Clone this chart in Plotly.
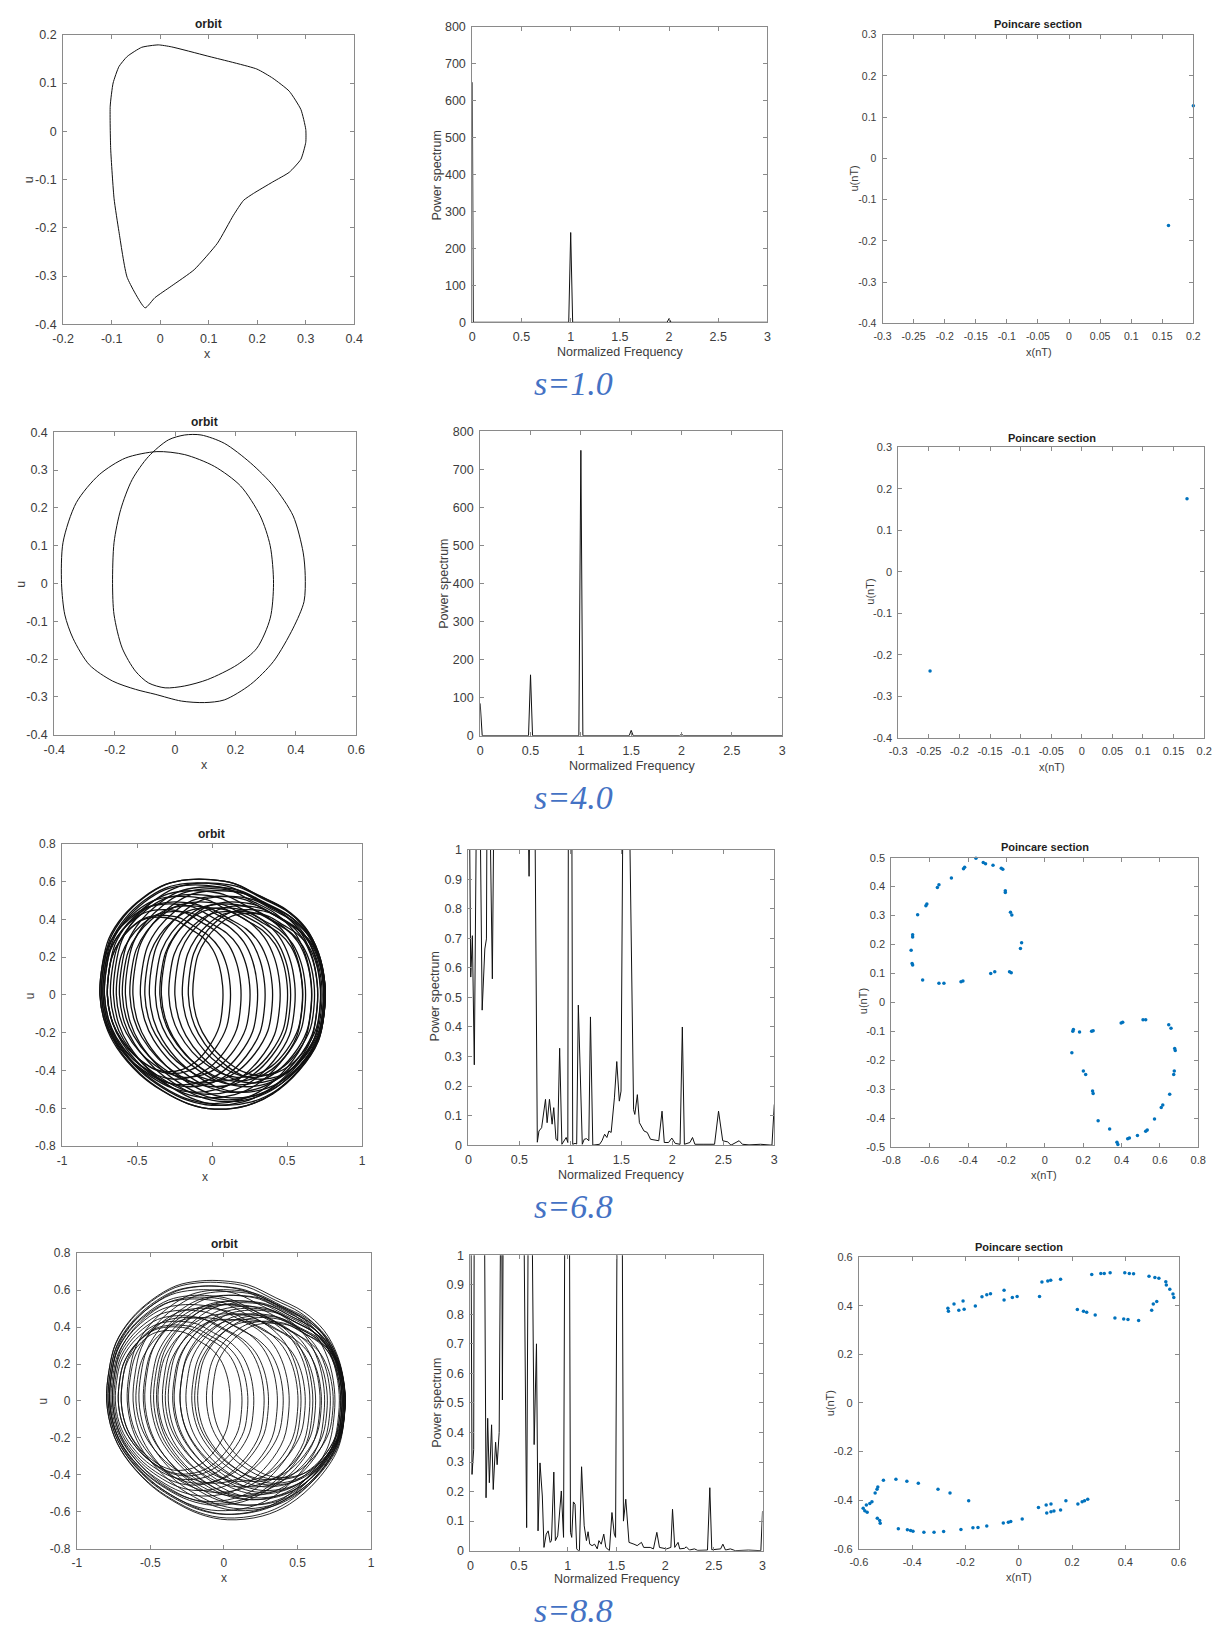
import plotly.graph_objects as go

W, H = 1223, 1634

# ---------------- data ----------------
# s = 1.0 orbit (x, u)
orb1_x = [-0.031, -0.068, -0.085, -0.095, -0.102, -0.103, -0.097, -0.085, -0.068, -0.038, -0.004, 0.023,
          0.097, 0.199, 0.232, 0.266, 0.290, 0.300, 0.300, 0.290, 0.266, 0.232, 0.192, 0.172, 0.151, 0.118,
          0.070, 0.023, -0.011, -0.031]
orb1_u = [-0.366, -0.303, -0.208, -0.140, -0.037, 0.052, 0.100, 0.134, 0.155, 0.174, 0.179, 0.175,
          0.156, 0.129, 0.110, 0.083, 0.045, 0.004, -0.023, -0.058, -0.085, -0.105, -0.129, -0.143, -0.174,
          -0.232, -0.287, -0.321, -0.345, -0.366]

# s = 4.0 orbit (period two)
orb2_x = [-0.060, -0.164, -0.251, -0.327, -0.371, -0.376, -0.365, -0.338, -0.284, -0.207, -0.131, -0.066,
          0.021, 0.097, 0.163, 0.250, 0.326, 0.391, 0.427, 0.431, 0.424, 0.391, 0.326, 0.250, 0.163, 0.086,
          0.032, -0.022, -0.088, -0.142, -0.180, -0.202, -0.207, -0.202, -0.175, -0.131, -0.088, -0.033,
          0.032, 0.108, 0.206, 0.271, 0.315, 0.326, 0.315, 0.282, 0.217, 0.130, 0.032, -0.060]
orb2_u = [0.349, 0.332, 0.288, 0.214, 0.109, 0.000, -0.083, -0.145, -0.215, -0.258, -0.280, -0.293,
          -0.311, -0.315, -0.308, -0.267, -0.206, -0.118, -0.048, 0.021, 0.083, 0.179, 0.258, 0.319, 0.371,
          0.393, 0.393, 0.380, 0.336, 0.275, 0.196, 0.109, 0.000, -0.083, -0.171, -0.232, -0.263, -0.276,
          -0.271, -0.254, -0.215, -0.171, -0.092, 0.000, 0.100, 0.179, 0.258, 0.310, 0.341, 0.349]

# traced outline of a single loop of the chaotic orbits (normalised)
loop_x = [-0.997, -0.977, -0.919, -0.789, -0.616, -0.415, -0.212, -0.011, 0.192, 0.424, 0.654, 0.828,
          0.943, 1.000, 1.000, 0.943, 0.771, 0.539, 0.309, 0.019, -0.212, -0.444, -0.645, -0.848, -0.948]
loop_y = [0.000, 0.257, 0.487, 0.687, 0.844, 0.959, 1.000, 1.000, 0.967, 0.859, 0.744, 0.587,
          0.372, 0.115, -0.115, -0.402, -0.659, -0.859, -0.959, -0.990, -0.944, -0.831, -0.687, -0.457, -0.257]

# s = 6.8 orbit loops: left edge, right edge, half height
orb3_left = [-0.75, -0.74, -0.73, -0.72, -0.70, -0.68, -0.75, -0.73, -0.70, -0.74, -0.66, -0.62, -0.58, -0.53,
             -0.48, -0.42, -0.38, -0.34, -0.29, -0.25, -0.20, -0.16, -0.13, -0.45, -0.60, -0.35, -0.55, -0.64,
             -0.70, -0.72]
orb3_right = [0.75, 0.74, 0.70, 0.66, 0.60, 0.55, 0.30, 0.19, 0.07, 0.45, 0.75, 0.74, 0.72, 0.75,
              0.70, 0.75, 0.66, 0.73, 0.60, 0.74, 0.68, 0.75, 0.72, 0.50, 0.40, 0.62, 0.52, 0.25,
              0.12, 0.35]
orb3_half = [0.61, 0.61, 0.59, 0.58, 0.55, 0.53, 0.48, 0.45, 0.41, 0.52, 0.59, 0.57, 0.56, 0.55,
             0.52, 0.52, 0.48, 0.49, 0.44, 0.47, 0.44, 0.45, 0.43, 0.46, 0.47, 0.46, 0.49, 0.44,
             0.42, 0.49]

# s = 8.8 orbit loops
orb4_left = [-0.80, -0.80, -0.79, -0.79, -0.78, -0.78, -0.77, -0.76, -0.75, -0.74, -0.72, -0.70, -0.66, -0.62,
             -0.58, -0.54, -0.50, -0.46, -0.42, -0.38, -0.34, -0.30, -0.26, -0.22, -0.18, -0.12, -0.08, -0.40,
             -0.55, -0.65, -0.30, -0.48, -0.70, -0.76, -0.60, -0.35, -0.20, -0.78, -0.72, -0.45]
orb4_right = [0.82, 0.80, 0.75, 0.68, 0.60, 0.52, 0.44, 0.36, 0.27, 0.20, 0.12, 0.04, 0.82, 0.81,
              0.80, 0.82, 0.79, 0.81, 0.82, 0.80, 0.81, 0.82, 0.79, 0.82, 0.81, 0.80, 0.82, 0.55,
              0.65, 0.50, 0.66, 0.72, 0.30, 0.58, 0.40, 0.70, 0.74, 0.78, 0.16, 0.62]
orb4_half = [0.65, 0.64, 0.62, 0.60, 0.57, 0.55, 0.52, 0.49, 0.46, 0.43, 0.40, 0.38, 0.60, 0.59,
             0.57, 0.57, 0.54, 0.54, 0.53, 0.51, 0.50, 0.49, 0.47, 0.46, 0.45, 0.43, 0.42, 0.44,
             0.52, 0.50, 0.44, 0.52, 0.45, 0.56, 0.45, 0.47, 0.43, 0.62, 0.41, 0.47]

# power spectra
f1 = [0.0, 0.01, 0.02, 0.98, 1.0, 1.02, 1.98, 2.0, 2.02, 3.0]
p1 = [650, 0, 0, 0, 243, 0, 0, 10, 0, 0]

f2 = [0.0, 0.02, 0.48, 0.5, 0.52, 0.98, 1.0, 1.02, 1.48, 1.5, 1.52, 1.98, 2.0, 2.02, 3.0]
p2 = [85, 0, 0, 160, 0, 0, 750, 0, 0, 14, 0, 0, 4, 0, 0]

f3 = [0.0, 0.023, 0.039, 0.058, 0.080, 0.113, 0.135, 0.161, 0.177, 0.183, 0.209, 0.235, 0.251, 0.589, 0.595,
      0.600, 0.653, 0.676, 0.692, 0.718, 0.756, 0.772, 0.795, 0.821, 0.837, 0.859, 0.875, 0.895, 0.917, 0.943,
      0.959, 0.975, 0.982, 1.0, 1.014, 1.023, 1.046, 1.062, 1.078, 1.117, 1.136, 1.159, 1.181, 1.197, 1.22,
      1.287, 1.31, 1.336, 1.358, 1.378, 1.40, 1.432, 1.455, 1.48, 1.497, 1.519, 1.55, 1.577, 1.62, 1.632,
      1.657, 1.677, 1.722, 1.754, 1.786, 1.867, 1.899, 1.921, 1.963, 1.995, 2.028, 2.076, 2.098, 2.118, 2.172,
      2.198, 2.221, 2.301, 2.414, 2.453, 2.494, 2.543, 2.575, 2.655, 2.687, 2.752, 2.865, 2.977, 3.0]
p3 = [1.6, 0.569, 0.709, 0.272, 1.2, 1.2, 0.457, 0.664, 0.698, 1.2, 1.2, 0.563, 1.2, 1.05, 0.91,
      1.05, 1.1, 0.01, 0.048, 0.059, 0.155, 0.076, 0.155, 0.071, 0.127, 0.02, 0.015, 0.328, 0.003, 0.015,
      0.026, 0.009, 1.5, 3.0, 1.5, 0.003, 0.006, 0.004, 0.474, 0.003, 0.02, 0.022, 0.015, 0.434, 0.0,
      0.003, 0.015, 0.037, 0.026, 0.048, 0.043, 0.16, 0.283, 0.149, 0.183, 1.5, 3.0, 1.2, 0.12, 0.104,
      0.171, 0.076, 0.048, 0.043, 0.02, 0.015, 0.115, 0.009, 0.009, 0.024, 0.006, 0.003, 0.40, 0.003, 0.009,
      0.026, 0.003, 0.003, 0.003, 0.115, 0.015, 0.011, 0.0, 0.015, 0.003, 0.001, 0.003, 0.0, 0.138]

f4 = [0.0, 0.017, 0.034, 0.040, 0.144, 0.161, 0.178, 0.195, 0.218, 0.235, 0.259, 0.275, 0.296, 0.312, 0.322,
      0.329, 0.338, 0.353, 0.548, 0.578, 0.595, 0.632, 0.655, 0.679, 0.695, 0.715, 0.739, 0.756, 0.779, 0.799,
      0.82, 0.833, 0.857, 0.873, 0.897, 0.934, 0.957, 0.974, 0.995, 1.014, 1.028, 1.041, 1.058, 1.075, 1.092,
      1.108, 1.120, 1.142, 1.169, 1.192, 1.209, 1.226, 1.25, 1.276, 1.303, 1.32, 1.344, 1.37, 1.391, 1.428,
      1.454, 1.478, 1.491, 1.512, 1.535, 1.555, 1.572, 1.596, 1.629, 1.68, 1.713, 1.757, 1.78, 1.847, 1.88,
      1.915, 1.942, 2.015, 2.059, 2.076, 2.099, 2.133, 2.15, 2.2, 2.217, 2.25, 2.301, 2.334, 2.435, 2.459,
      2.479, 2.57, 2.593, 2.62, 2.67, 2.72, 2.855, 2.983, 3.0]
p4 = [1.6, 0.258, 0.342, 1.2, 1.2, 0.179, 0.448, 0.230, 0.426, 0.207, 0.367, 0.291, 0.40, 1.2, 1.2,
      0.51, 1.2, 1.2, 1.2, 0.078, 1.2, 1.2, 0.359, 0.70, 0.067, 0.297, 0.185, 0.011, 0.056, 0.067,
      0.028, 0.034, 0.266, 0.034, 0.05, 0.202, 0.045, 1.5, 3.0, 1.5, 0.062, 0.045, 0.165, 0.157, 0.006,
      0.0, 0.0, 0.284, 0.084, 0.034, 0.064, 0.022, 0.017, 0.022, 0.006, 0.034, 0.022, 0.056, 0.011, 0.0,
      0.129, 0.056, 0.045, 1.5, 3.0, 1.5, 0.10, 0.174, 0.028, 0.022, 0.017, 0.028, 0.011, 0.011, 0.006,
      0.062, 0.011, 0.006, 0.011, 0.14, 0.011, 0.028, 0.006, 0.008, 0.013, 0.002, 0.006, 0.001, 0.002, 0.213,
      0.003, 0.006, 0.022, 0.002, 0.006, 0.0, 0.002, 0.0, 0.134]

# Poincare sections
pc1_x = [0.200, 0.160]
pc1_u = [0.128, -0.163]
pc2_x = [0.172, -0.248]
pc2_u = [0.176, -0.239]
pc3_x = [-0.359, -0.321, -0.309, -0.270, -0.227, -0.219, -0.206, -0.206, -0.179, -0.172, -0.121, -0.127,
         -0.184, -0.175, -0.282, -0.261, -0.427, -0.437, -0.526, -0.552, -0.637, -0.689, -0.692, -0.697,
         -0.689, -0.689, -0.663, -0.620, -0.615, -0.560, -0.552, -0.487, -0.424, -0.418,
         0.146, 0.149, 0.181, 0.244, 0.252, 0.141, 0.201, 0.213, 0.249, 0.252, 0.278, 0.338, 0.376, 0.381,
         0.432, 0.441, 0.483, 0.526, 0.534, 0.572, 0.607, 0.615, 0.651, 0.672, 0.675, 0.680, 0.677, 0.646,
         0.658, 0.512, 0.526, 0.398, 0.406]
pc3_u = [0.498, 0.483, 0.479, 0.474, 0.463, 0.460, 0.386, 0.380, 0.311, 0.302, 0.206, 0.186,
         0.106, 0.102, 0.100, 0.106, 0.074, 0.071, 0.066, 0.066, 0.077, 0.129, 0.134, 0.180,
         0.234, 0.226, 0.303, 0.334, 0.340, 0.397, 0.406, 0.430, 0.462, 0.467,
         -0.100, -0.094, -0.102, -0.100, -0.098, -0.174, -0.237, -0.249, -0.306, -0.315, -0.409, -0.437,
         -0.483, -0.491, -0.471, -0.468, -0.460, -0.445, -0.441, -0.403, -0.363, -0.354, -0.317, -0.249,
         -0.237, -0.166, -0.159, -0.077, -0.089, -0.060, -0.060, -0.071, -0.069]
pc4_x = [-0.266, -0.264, -0.243, -0.225, -0.209, -0.205, -0.163, -0.138, -0.120, -0.106, -0.055, -0.055,
         -0.024, -0.006, 0.078, 0.087, 0.109, 0.120, 0.157, 0.274, 0.308, 0.321, 0.343, 0.398, 0.415,
         0.431, 0.489, 0.511, 0.526, 0.552, 0.554, 0.567, 0.579, 0.582, 0.518, 0.505, 0.499, 0.450,
         0.410, 0.394, 0.361, 0.287, 0.255, 0.243, 0.220,
         -0.461, -0.420, -0.377, -0.303, -0.258, -0.188, -0.508, -0.529, -0.532, -0.539, -0.551, -0.559,
         -0.572, -0.584, -0.578, -0.569, -0.531, -0.522, -0.520, -0.452, -0.418, -0.406, -0.397, -0.356,
         -0.318, -0.282, -0.217, -0.172, -0.153, -0.120, -0.058, -0.039, -0.030, 0.013, 0.074, 0.103,
         0.121, 0.105, 0.121, 0.132, 0.157, 0.177, 0.222, 0.238, 0.247, 0.259]
pc4_u = [0.390, 0.377, 0.407, 0.382, 0.420, 0.386, 0.399, 0.437, 0.445, 0.450, 0.464, 0.424,
         0.434, 0.438, 0.438, 0.498, 0.502, 0.505, 0.509, 0.529, 0.533, 0.533, 0.536, 0.536, 0.533,
         0.532, 0.522, 0.516, 0.513, 0.499, 0.486, 0.468, 0.448, 0.434, 0.418, 0.407, 0.382, 0.339,
         0.344, 0.346, 0.350, 0.362, 0.373, 0.377, 0.385,
         -0.314, -0.322, -0.331, -0.355, -0.371, -0.403, -0.318, -0.346, -0.355, -0.371, -0.407, -0.414,
         -0.420, -0.434, -0.444, -0.450, -0.475, -0.484, -0.495, -0.518, -0.522, -0.525, -0.528, -0.532,
         -0.532, -0.529, -0.521, -0.514, -0.513, -0.507, -0.494, -0.491, -0.488, -0.478, -0.430, -0.420,
         -0.416, -0.453, -0.448, -0.445, -0.441, -0.403, -0.416, -0.407, -0.403, -0.396]

# tick labels
T_orb1_x = ['-0.2', '-0.1', '0', '0.1', '0.2', '0.3', '0.4']
T_orb1_y = ['-0.4', '-0.3', '-0.2', '-0.1', '0', '0.1', '0.2']
T_orb2_x = ['-0.4', '-0.2', '0', '0.2', '0.4', '0.6']
T_orb2_y = ['-0.4', '-0.3', '-0.2', '-0.1', '0', '0.1', '0.2', '0.3', '0.4']
T_orb34_x = ['-1', '-0.5', '0', '0.5', '1']
T_orb34_y = ['-0.8', '-0.6', '-0.4', '-0.2', '0', '0.2', '0.4', '0.6', '0.8']
T_freq = ['0', '0.5', '1', '1.5', '2', '2.5', '3']
T_pow800 = ['0', '100', '200', '300', '400', '500', '600', '700', '800']
T_pow1 = ['0', '0.1', '0.2', '0.3', '0.4', '0.5', '0.6', '0.7', '0.8', '0.9', '1']
T_pc12_x = ['-0.3', '-0.25', '-0.2', '-0.15', '-0.1', '-0.05', '0', '0.05', '0.1', '0.15', '0.2']
T_pc12_y = ['-0.4', '-0.3', '-0.2', '-0.1', '0', '0.1', '0.2', '0.3']
T_pc3_x = ['-0.8', '-0.6', '-0.4', '-0.2', '0', '0.2', '0.4', '0.6', '0.8']
T_pc3_y = ['-0.5', '-0.4', '-0.3', '-0.2', '-0.1', '0', '0.1', '0.2', '0.3', '0.4', '0.5']
T_pc4_x = ['-0.6', '-0.4', '-0.2', '0', '0.2', '0.4', '0.6']
T_pc4_y = ['-0.6', '-0.4', '-0.2', '0', '0.2', '0.4', '0.6']

s_labels = ['s=1.0', 's=4.0', 's=6.8', 's=8.8']

# ---------------- figure ----------------
SANS = 'Liberation Sans, Arial, Helvetica, sans-serif'
AX_COL = '#8a8a8a'
TXT_COL = '#3c3c3c'

fig = go.Figure()

# pixel frames (left, right, top, bottom) of each panel
frames = {
    1: (53, 349, 28, 320), 2: (469, 769, 20, 318), 3: (886, 1202, 28, 319),
    4: (44, 351, 429, 734), 5: (477, 784, 428, 735), 6: (902, 1213, 444, 737),
    7: (52, 357, 844, 1149), 8: (465, 776, 850, 1148), 9: (895, 1207, 858, 1150),
    10: (67, 366, 1257, 1555), 11: (467, 764, 1259, 1557), 12: (862, 1187, 1261, 1555),
}
ticks = {
    1: (T_orb1_x, T_orb1_y, 12.5), 2: (T_freq, T_pow800, 12.5), 3: (T_pc12_x, T_pc12_y, 10.5),
    4: (T_orb2_x, T_orb2_y, 12.5), 5: (T_freq, T_pow800, 12.5), 6: (T_pc12_x, T_pc12_y, 11),
    7: (T_orb34_x, T_orb34_y, 12), 8: (T_freq, T_pow1, 12.5), 9: (T_pc3_x, T_pc3_y, 11),
    10: (T_orb34_x, T_orb34_y, 12), 11: (T_freq, T_pow1, 12.5), 12: (T_pc4_x, T_pc4_y, 11),
}

layout_axes = {}
for i, (l, r, t, b) in frames.items():
    tx, ty, fs = ticks[i]
    common = dict(showline=True, linecolor=AX_COL, linewidth=1, mirror='ticks', ticks='inside',
                  ticklen=4, tickcolor=AX_COL, tickwidth=1, showgrid=False, zeroline=False,
                  tickfont=dict(family=SANS, size=fs, color=TXT_COL), ticklabelstandoff=3,
                  fixedrange=True)
    sx = '' if i == 1 else str(i)
    layout_axes['xaxis' + sx] = dict(common, domain=[l / W, r / W], anchor='y' + sx,
                                     range=[float(tx[0]), float(tx[-1])],
                                     tickvals=[float(v) for v in tx], ticktext=tx)
    layout_axes['yaxis' + sx] = dict(common, domain=[1 - b / H, 1 - t / H], anchor='x' + sx,
                                     range=[float(ty[0]), float(ty[-1])],
                                     tickvals=[float(v) for v in ty], ticktext=ty)


def ax(i):
    s = '' if i == 1 else str(i)
    return dict(xaxis='x' + s, yaxis='y' + s)


def loops(lefts, rights, halves):
    xs, ys = [], []
    for L, R, hh in zip(lefts, rights, halves):
        c, hw = (L + R) / 2, (R - L) / 2
        for bx, by in list(zip(loop_x, loop_y)) + [(loop_x[0], loop_y[0])]:
            xs.append(c + bx * hw)
            ys.append(by * hh)
        xs.append(None)
        ys.append(None)
    return xs, ys


LINE = '#111111'
fig.add_trace(go.Scatter(x=orb1_x, y=orb1_u, mode='lines', line=dict(color=LINE, width=1, shape='spline', smoothing=0.5), **ax(1)))
fig.add_trace(go.Scatter(x=orb2_x, y=orb2_u, mode='lines', line=dict(color=LINE, width=1, shape='spline', smoothing=0.8), **ax(4)))
x3, y3 = loops(orb3_left, orb3_right, orb3_half)
fig.add_trace(go.Scatter(x=x3, y=y3, mode='lines', line=dict(color=LINE, width=1.3, shape='spline', smoothing=1.0), **ax(7)))
x4, y4 = loops(orb4_left, orb4_right, orb4_half)
fig.add_trace(go.Scatter(x=x4, y=y4, mode='lines', line=dict(color=LINE, width=0.9, shape='spline', smoothing=1.0), **ax(10)))

for i, (f, p) in zip([2, 5, 8, 11], [(f1, p1), (f2, p2), (f3, p3), (f4, p4)]):
    fig.add_trace(go.Scatter(x=f, y=p, mode='lines', line=dict(color=LINE, width=1), **ax(i)))

BLUE = '#0072BD'
for i, (px, pu) in zip([3, 6, 9, 12], [(pc1_x, pc1_u), (pc2_x, pc2_u), (pc3_x, pc3_u), (pc4_x, pc4_u)]):
    fig.add_trace(go.Scatter(x=px, y=pu, mode='markers', cliponaxis=False,
                             marker=dict(color=BLUE, size=3.5, line=dict(width=0)), **ax(i)))

# ---------------- text ----------------
ann = []


def text(x, y, s, size, bold=False, angle=0, color=TXT_COL, family=SANS, italic=False):
    if bold:
        s = '<b>' + s + '</b>'
    if italic:
        s = '<i>' + s + '</i>'
    ann.append(dict(x=x / W, y=1 - y / H, xref='paper', yref='paper', text=s, showarrow=False,
                    xanchor='center', yanchor='middle', textangle=angle,
                    font=dict(family=family, size=size, color=color)))


# titles
text(201, 17, 'orbit', 12, bold=True, color='#1e1e1e')
text(1044, 17, 'Poincare section', 11, bold=True, color='#1e1e1e')
text(197, 419, 'orbit', 12, bold=True, color='#1e1e1e')
text(1058, 435, 'Poincare section', 11, bold=True, color='#1e1e1e')
text(204, 834, 'orbit', 12, bold=True, color='#1e1e1e')
text(1051, 847, 'Poincare section', 11, bold=True, color='#1e1e1e')
text(217, 1248, 'orbit', 12, bold=True, color='#1e1e1e')
text(1025, 1251, 'Poincare section', 11, bold=True, color='#1e1e1e')

# axis titles
text(18, 174, 'u', 12.5, angle=-90)
text(200, 350, 'x', 12.5)
text(433, 170, 'Power spectrum', 12.5, angle=-90)
text(619, 348, 'Normalized Frequency', 12.5)
text(857, 173, 'u(nT)', 11, angle=-90)
text(1045, 348, 'x(nT)', 11)

text(10, 582, 'u', 12.5, angle=-90)
text(197, 765, 'x', 12.5)
text(440, 582, 'Power spectrum', 12.5, angle=-90)
text(631, 766, 'Normalized Frequency', 12.5)
text(873, 590, 'u(nT)', 11, angle=-90)
text(1058, 767, 'x(nT)', 11)

text(20, 997, 'u', 12, angle=-90)
text(197, 1180, 'x', 12)
text(431, 998, 'Power spectrum', 12.5, angle=-90)
text(620, 1178, 'Normalized Frequency', 12.5)
text(867, 1003, 'u(nT)', 11, angle=-90)
text(1050, 1178, 'x(nT)', 11)

text(32, 1406, 'u', 12, angle=-90)
text(217, 1585, 'x', 12)
text(433, 1408, 'Power spectrum', 12.5, angle=-90)
text(616, 1586, 'Normalized Frequency', 12.5)
text(833, 1408, 'u(nT)', 11, angle=-90)
text(1025, 1584, 'x(nT)', 11)

# parameter labels
for s, y in zip(s_labels, [380, 797, 1210, 1617]):
    text(572, y, s, 34, italic=True, color='#4472C4', family='Liberation Serif, Times New Roman, serif')

fig.update_layout(width=W, height=H, margin=dict(l=0, r=0, t=0, b=0), showlegend=False,
                  paper_bgcolor='white', plot_bgcolor='white', annotations=ann, **layout_axes)

fig.write_html('out.html', config={'displayModeBar': False})
